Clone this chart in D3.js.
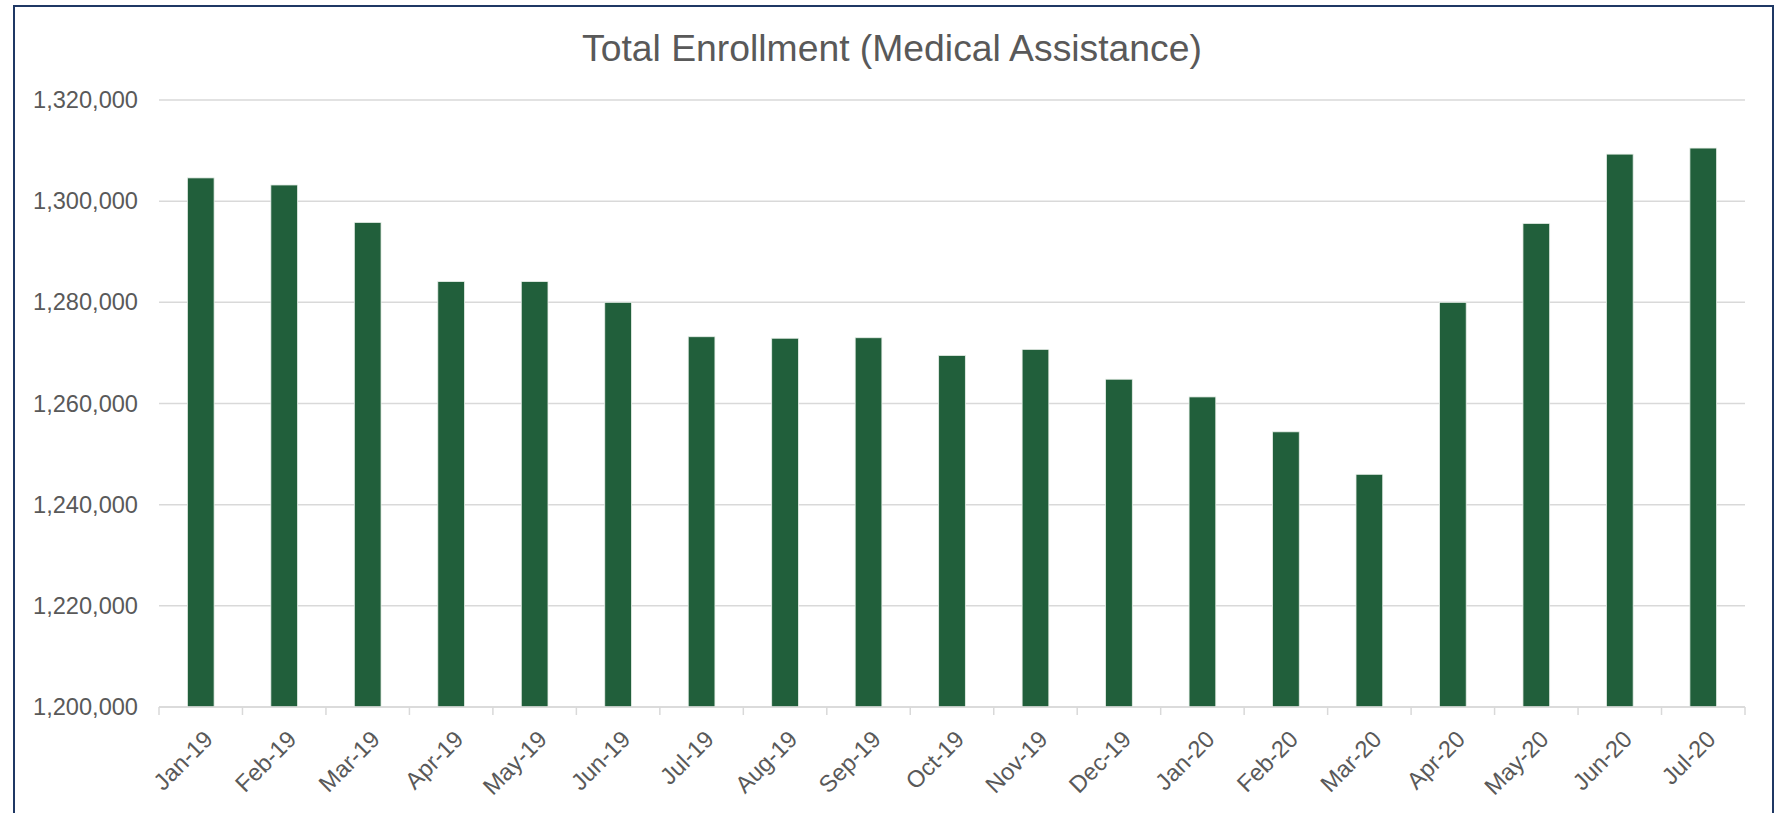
<!DOCTYPE html>
<html>
<head>
<meta charset="utf-8">
<script src="https://cdn.jsdelivr.net/npm/d3@7"></script>
<style>
  body { margin: 0; background: #fff; }
  svg { display: block; font-family: "Liberation Sans", Arial, sans-serif; }
</style>
</head>
<body>
<script>
// data
var months = ["Jan-19", "Feb-19", "Mar-19", "Apr-19", "May-19", "Jun-19", "Jul-19", "Aug-19", "Sep-19",
  "Oct-19", "Nov-19", "Dec-19", "Jan-20", "Feb-20", "Mar-20", "Apr-20", "May-20", "Jun-20", "Jul-20"]
var enrollment = [1304600, 1303200, 1295800, 1284100, 1284100, 1280000, 1273200, 1272900, 1273000,
  1269500, 1270700, 1264800, 1261300, 1254400, 1246000, 1280000, 1295600, 1309300, 1310500]
var yTicks = [1200000, 1220000, 1240000, 1260000, 1280000, 1300000, 1320000]
var title = "Total Enrollment (Medical Assistance)"

var width = 1782, height = 813
var margin = { left: 159, right: 1782 - 1745, top: 100, bottom: 813 - 707 }

var svg = d3.select("body").append("svg")
  .attr("width", width)
  .attr("height", height)

// frame
svg.append("rect")
  .attr("x", 14).attr("y", 6)
  .attr("width", 1759).attr("height", 830)
  .attr("fill", "#fff")
  .attr("stroke", "#1f3864")
  .attr("stroke-width", 2)

svg.append("text")
  .attr("x", 892).attr("y", 48)
  .attr("text-anchor", "middle")
  .attr("dominant-baseline", "central")
  .attr("fill", "#595959")
  .style("font-size", "37.3px")
  .text(title)

var x = d3.scaleBand()
  .domain(months)
  .range([margin.left, width - margin.right])
  .paddingInner(0.68)
  .paddingOuter(0.34)

var y = d3.scaleLinear()
  .domain([1200000, 1320000])
  .range([height - margin.bottom, margin.top])

// gridlines
svg.append("g").selectAll("line")
  .data(yTicks)
  .enter().append("line")
    .attr("x1", margin.left).attr("x2", width - margin.right)
    .attr("y1", function (d) { return y(d) }).attr("y2", function (d) { return y(d) })
    .attr("stroke", "#d9d9d9")
    .attr("stroke-width", 1.5)

// y labels
svg.append("g").selectAll("text")
  .data(yTicks)
  .enter().append("text")
    .attr("x", 138)
    .attr("y", function (d) { return y(d) })
    .attr("text-anchor", "end")
    .attr("dominant-baseline", "central")
    .attr("fill", "#595959")
    .style("font-size", "23.6px")
    .text(d3.format(","))

// bars
svg.append("g").selectAll("rect")
  .data(enrollment)
  .enter().append("rect")
    .attr("x", function (d, i) { return x(months[i]) })
    .attr("y", function (d) { return y(d) })
    .attr("width", x.bandwidth())
    .attr("height", function (d) { return y(1200000) - y(d) })
    .attr("fill", "#215f3b")
    .attr("stroke", "#e8efe9")
    .attr("stroke-width", 0.8)

// x axis line + ticks
var y0 = y(1200000)
svg.append("line")
  .attr("x1", margin.left).attr("x2", width - margin.right)
  .attr("y1", y0).attr("y2", y0)
  .attr("stroke", "#d9d9d9").attr("stroke-width", 1.5)

var step = x.step()
svg.append("g").selectAll("line")
  .data(d3.range(months.length + 1))
  .enter().append("line")
    .attr("x1", function (i) { return margin.left + i * step })
    .attr("x2", function (i) { return margin.left + i * step })
    .attr("y1", y0).attr("y2", y0 + 8)
    .attr("stroke", "#d9d9d9").attr("stroke-width", 1.5)

// x labels
svg.append("g").selectAll("text")
  .data(months)
  .enter().append("text")
    .attr("transform", function (d) {
      return "translate(" + (x(d) + x.bandwidth() / 2 + 8) + "," + (y0 + 28) + ") rotate(-45)"
    })
    .attr("text-anchor", "end")
    .attr("dominant-baseline", "central")
    .attr("fill", "#595959")
    .style("font-size", "23.6px")
    .text(function (d) { return d })
</script>
</body>
</html>
